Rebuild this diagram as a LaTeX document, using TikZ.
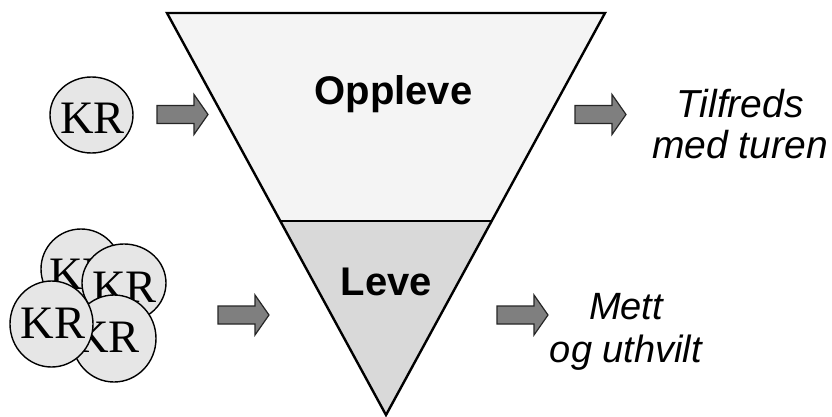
\documentclass[tikz,border=0pt]{standalone}
\usepackage{fontspec}
\setmainfont{Liberation Sans}
\newfontfamily\krfont{Liberation Serif}
\usetikzlibrary{shapes.geometric}
\definecolor{topfill}{HTML}{F4F4F4}
\definecolor{botfill}{HTML}{D9D9D9}
\definecolor{krfill}{HTML}{E6E6E6}
\definecolor{arrfill}{HTML}{7F7F7F}
\begin{document}
\begin{tikzpicture}[x=1pt,y=-1pt,
  krcirc/.style={ellipse, draw=black, line width=1.4pt, fill=krfill, inner sep=0pt},
  krtext/.style={font=\krfont\fontsize{46.5}{46.5}\selectfont, anchor=base, inner sep=0pt},
  funnel/.style={draw=black, line width=2.4pt, line join=miter},
  bigtext/.style={font=\bfseries\fontsize{40}{40}\selectfont, anchor=base, inner sep=0pt},
  outtext/.style={font=\itshape\fontsize{39}{41}\selectfont, align=center, anchor=base, inner sep=0pt},
  barrow/.pic={\draw[draw=black!85, line width=1.2pt, fill=arrfill, line join=miter]
     (0,-9) -- (37,-9) -- (37,-20) -- (51,0) -- (37,20) -- (37,9) -- (0,9) -- cycle;}
]
\useasboundingbox (0,0) rectangle (832,417);
\fill[white] (0,0) rectangle (832,417);

% funnel
\coordinate (tl) at (167,13);
\coordinate (tr) at (605,13);
\coordinate (ap) at (386,415);
\coordinate (dl) at (280.3,221);
\coordinate (dr) at (491.7,221);
\fill[topfill] (tl) -- (tr) -- (dr) -- (dl) -- cycle;
\fill[botfill] (dl) -- (dr) -- (ap) -- cycle;
\draw[line width=1.2pt] (dl) -- (dr);
\draw[funnel] (tl) -- (tr) -- (ap) -- cycle;
\node[bigtext] (opp) at (393.5,105) {Oppleve};
\node[bigtext] (leve) at (386.5,295) {Leve};

% single KR
\node[krcirc, minimum width=83pt, minimum height=76pt] (k0) at (91.5,115) {};
\node[krtext] (k0t) at (92.5,133) {KR};

% cluster
\node[krcirc, minimum width=80pt, minimum height=80pt] (k1) at (81,269) {};
\node[krtext] (k1t) at (81.5,289) {KR};
\node[krcirc, minimum width=84pt, minimum height=78pt] (k2) at (124,283) {};
\node[krtext] (k2t) at (124.5,302) {KR};
\node[krcirc, minimum width=84pt, minimum height=87pt] (k4) at (114,338.5) {};
\node[krtext] (k4t) at (107.5,352) {KR};
\node[krcirc, minimum width=83pt, minimum height=86pt] (k3) at (51.5,324) {};
\node[krtext] (k3t) at (53,338) {KR};

% arrows
\pic (a1) at (157,114.5) {barrow};
\pic (a2) at (575,114.5) {barrow};
\pic (a3) at (218,315) {barrow};
\pic (a4) at (497,315) {barrow};

% outcomes
\node[outtext] (tilf) at (740,158) {Tilfreds\\med turen};
\node[outtext, font=\itshape\fontsize{38}{43}\selectfont] (mett) at (626,362) {Mett\\og uthvilt};
\end{tikzpicture}
\end{document}
